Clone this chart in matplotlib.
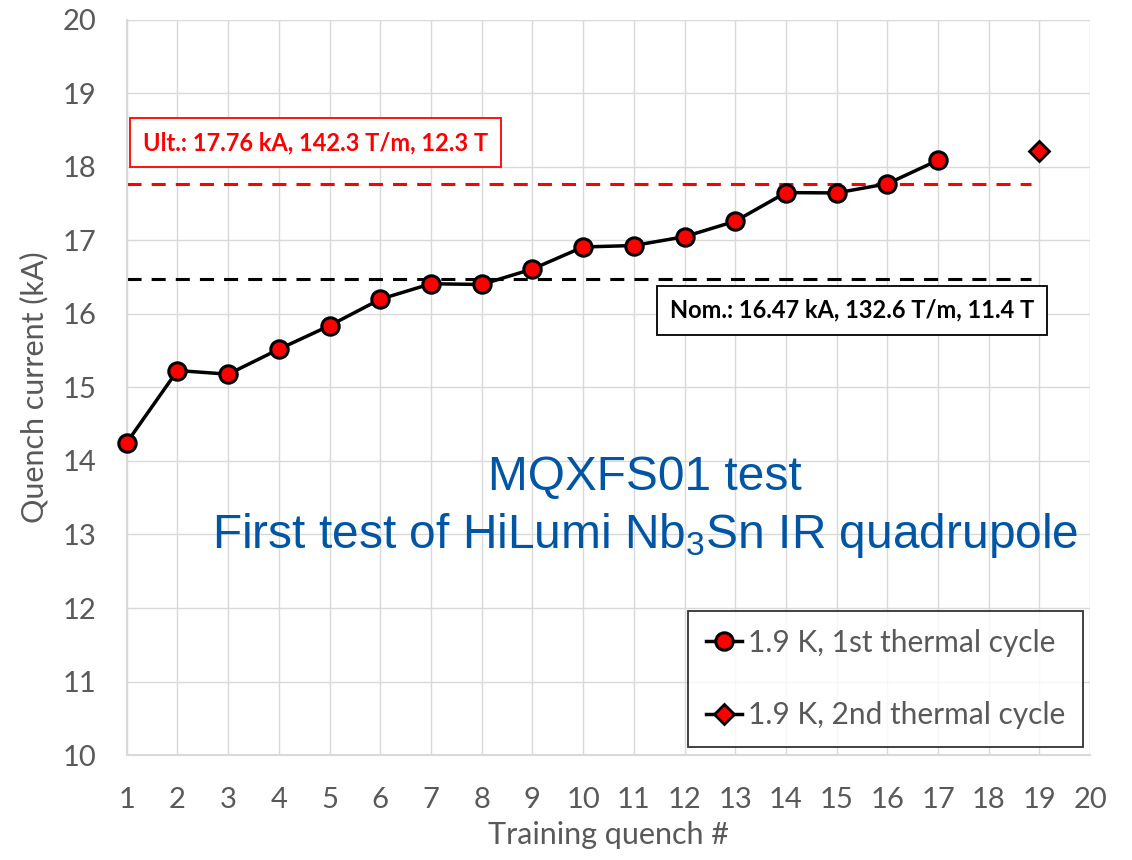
import matplotlib.pyplot as plt
from matplotlib.lines import Line2D

# Training quench data (kA)
quench_1st = [1, 2, 3, 4, 5, 6, 7, 8, 9, 10, 11, 12, 13, 14, 15, 16, 17]
current_1st = [14.25, 15.23, 15.18, 15.52, 15.84, 16.20, 16.41, 16.40, 16.61,
               16.91, 16.93, 17.05, 17.26, 17.65, 17.645, 17.77, 18.09]
quench_2nd = [19]
current_2nd = [18.22]

i_nom = 16.47
i_ult = 17.76
nom_label = 'Nom.: 16.47 kA, 132.6 T/m, 11.4 T'
ult_label = 'Ult.: 17.76 kA, 142.3 T/m, 12.3 T'

gray = '#595959'
grid_c = '#D9D9D9'
blue = '#0056A4'

plt.rcParams['font.family'] = ['Lato', 'DejaVu Sans']
plt.rcParams['mathtext.fontset'] = 'custom'
plt.rcParams['mathtext.rm'] = 'Liberation Sans'

fig = plt.figure(figsize=(11.32, 8.6), dpi=100)
ax = fig.add_axes([0.112, 0.122, 0.851, 0.855])

ax.set_xlim(1, 20)
ax.set_ylim(10, 20)
ax.set_xticks(range(1, 21))
ax.set_yticks(range(10, 21))
ax.grid(True, color=grid_c, lw=1)
ax.set_axisbelow(True)
for side in ['top', 'right']:
    ax.spines[side].set_visible(False)
for side in ['left', 'bottom']:
    ax.spines[side].set_color(grid_c)
    ax.spines[side].set_linewidth(1.5)
ax.tick_params(length=0, labelsize=21, labelcolor=gray)
ax.tick_params(axis='y', pad=22)
ax.tick_params(axis='x', pad=23)
ax.set_xlabel('Training quench #', fontsize=22, color=gray, labelpad=6)
ax.set_ylabel('Quench current (kA)', fontsize=22, color=gray, labelpad=10)

# nominal / ultimate reference lines
ax.plot([1, 18.83], [i_ult, i_ult], color='red', lw=2.2, ls=(0, (4.6, 3.3)), zorder=2)
ax.plot([1, 18.83], [i_nom, i_nom], color='black', lw=2.2, ls=(0, (4.6, 3.3)), zorder=2)

ax.text(4.72, 18.33, ult_label, fontsize=17, fontweight='bold', color='red',
        ha='center', va='center',
        bbox=dict(boxstyle='square,pad=0.55', fc='white', ec='red', lw=1.3), zorder=4)
ax.text(15.3, 16.05, nom_label, fontsize=17, fontweight='bold', color='black',
        ha='center', va='center',
        bbox=dict(boxstyle='square,pad=0.55', fc='white', ec='black', lw=1.3), zorder=4)

ax.plot(quench_1st, current_1st, color='black', lw=2.5, marker='o', ms=12.5,
        mfc='red', mec='black', mew=2.2, zorder=5, clip_on=False)
ax.plot(quench_2nd, current_2nd, ls='none', marker='D', ms=10,
        mfc='red', mec='black', mew=2.0, zorder=5)

ax.text(11.22, 13.77, 'MQXFS01 test', fontsize=34.5, color=blue,
        family='Liberation Sans', ha='center', va='center')
ax.text(11.22, 12.99, 'First test of HiLumi Nb$_3$Sn IR quadrupole', fontsize=34.5,
        color=blue, family='Liberation Sans', ha='center', va='center')

handles = [
    Line2D([], [], color='black', lw=2.5, marker='o', ms=12.5, mfc='red',
           mec='black', mew=2.2),
    Line2D([], [], color='black', lw=2.5, marker='D', ms=10, mfc='red',
           mec='black', mew=2.0),
]
leg = ax.legend(handles, ['1.9 K, 1st thermal cycle', '1.9 K, 2nd thermal cycle'],
                loc='lower right', bbox_to_anchor=(0.993, 0.011), fontsize=21.5,
                frameon=True, fancybox=False, edgecolor='black', labelcolor=gray,
                handlelength=1.2, handletextpad=0.2, borderpad=0.6,
                labelspacing=1.48, borderaxespad=0)
leg.get_frame().set_linewidth(1.3)

fig.savefig('out.png', dpi=100)
